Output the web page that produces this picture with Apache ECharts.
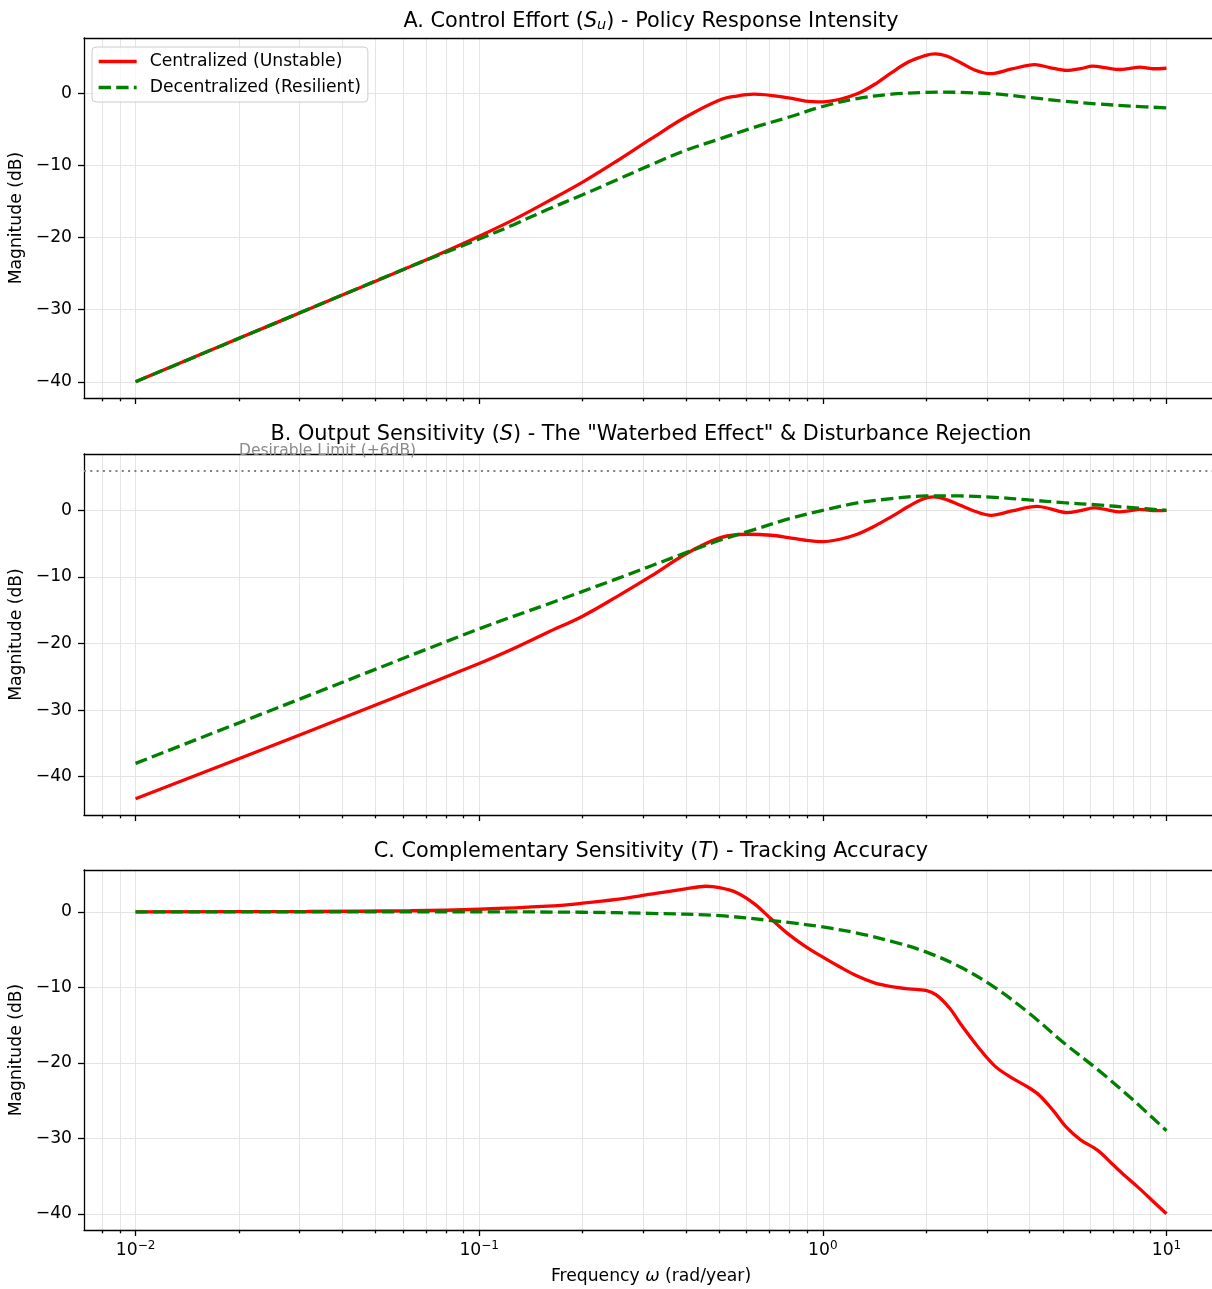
<!DOCTYPE html>
<html><head><meta charset="utf-8">
<script src="https://cdn.jsdelivr.net/npm/echarts@6/dist/echarts.min.js"></script>
<style>html,body{margin:0;padding:0;background:#fff}#c{width:1212px;height:1289px}</style>
</head><body><div id="c"></div>
<script>
const FONT = 'DejaVu Sans';
const SERIES_NAMES = ['Centralized (Unstable)', 'Decentralized (Resilient)'];
const X_MAJOR_TICKS = [0.01, 0.1, 1, 10];
const Y_TICKS = [-40, -30, -20, -10, 0];
const LIMIT_DB = 6;
const LIMIT_LABEL = 'Desirable Limit (+6dB)';
const LIMIT_LABEL_X = 0.02;

// Panel A: Control effort S_u
const A_CEN_FREQ = [0.01,0.0158,0.0251,0.0398,0.0631,0.0794,0.1,0.126,0.158,0.2,0.251,0.316,0.398,0.501,0.562,0.631,0.794,0.891,1.0,1.122,1.259,1.413,1.585,1.778,1.995,2.12,2.291,2.512,2.754,3.06,3.548,4.14,4.571,5.129,5.623,6.11,6.683,7.31,7.852,8.356,9.12,10];
const A_CEN_MAG  = [-40,-36,-32,-28,-24,-21.95,-19.8,-17.5,-15.0,-12.3,-9.4,-6.3,-3.3,-0.9,-0.35,-0.1,-0.6,-1.05,-1.15,-0.8,-0.05,1.25,2.9,4.4,5.3,5.5,5.2,4.3,3.3,2.75,3.4,4.0,3.6,3.2,3.45,3.8,3.55,3.33,3.5,3.65,3.43,3.5];
const A_DEC_FREQ = [0.01,0.0251,0.0631,0.0794,0.1,0.126,0.158,0.2,0.251,0.316,0.398,0.501,0.631,0.794,1.0,1.259,1.585,1.995,2.239,2.512,3.162,3.981,5.012,6.31,7.943,10];
const A_DEC_MAG  = [-40,-32,-24,-22.1,-20.2,-18.2,-16.1,-14.05,-12.0,-9.9,-7.9,-6.3,-4.7,-3.3,-1.8,-0.7,-0.1,0.15,0.2,0.15,-0.05,-0.55,-1.05,-1.45,-1.75,-2.0];

// Panel B: Output sensitivity S
const B_CEN_FREQ = [0.01,0.0316,0.1,0.126,0.158,0.2,0.251,0.316,0.398,0.501,0.603,0.708,0.794,0.891,1.0,1.122,1.259,1.413,1.585,1.778,1.95,2.1,2.291,2.512,2.754,3.09,3.548,4.2,4.571,5.129,5.623,6.166,6.683,7.295,7.852,8.356,9.12,10];
const B_CEN_MAG  = [-43.3,-33.3,-23.0,-20.75,-18.35,-15.9,-13.0,-9.9,-6.6,-4.15,-3.6,-3.75,-4.1,-4.5,-4.7,-4.35,-3.6,-2.4,-0.95,0.6,1.65,2.0,1.6,0.75,-0.1,-0.75,-0.1,0.6,0.25,-0.35,-0.05,0.35,0.1,-0.25,-0.05,0.15,-0.05,0];
const B_DEC_FREQ = [0.01,0.0316,0.1,0.158,0.251,0.398,0.501,0.631,0.794,1.0,1.259,1.585,1.995,2.512,3.162,3.981,5.012,6.31,7.943,10];
const B_DEC_MAG  = [-38,-27.9,-17.8,-14.1,-10.3,-6.4,-4.5,-2.9,-1.3,0,1.1,1.75,2.15,2.15,1.95,1.55,1.15,0.8,0.4,0];

// Panel C: Complementary sensitivity T
const C_CEN_FREQ = [0.01,0.0316,0.0631,0.1,0.158,0.2,0.251,0.316,0.398,0.457,0.501,0.562,0.631,0.708,0.794,0.891,1.0,1.122,1.259,1.413,1.585,1.778,1.995,2.138,2.344,2.512,2.818,3.162,3.548,3.981,4.266,4.677,5.129,5.623,6.31,6.918,7.586,8.318,9.12,10];
const C_CEN_MAG  = [0,0.05,0.15,0.35,0.75,1.15,1.65,2.35,3.05,3.4,3.2,2.55,1.1,-0.95,-2.95,-4.6,-6.0,-7.3,-8.5,-9.4,-9.9,-10.2,-10.4,-11.0,-12.8,-14.8,-17.8,-20.4,-22.0,-23.3,-24.3,-26.3,-28.6,-30.2,-31.6,-33.3,-35.0,-36.6,-38.3,-40];
const C_DEC_FREQ = [0.01,0.1,0.2,0.316,0.501,0.708,0.794,1.0,1.259,1.585,1.995,2.512,3.162,3.981,5.012,6.31,7.943,10];
const C_DEC_MAG  = [0,0,-0.05,-0.2,-0.5,-1.15,-1.4,-2.0,-2.8,-3.9,-5.3,-7.3,-10.0,-13.4,-17.3,-20.9,-24.8,-29];

const zip = (xs, ys) => xs.map((x, i) => [x, ys[i]]);

const X_MIN = Math.pow(10, -2.15), X_MAX = Math.pow(10, 1.15);
const X_MINOR_TICKS = [];
[0.001, 0.01, 0.1, 1].forEach(d => { for (let m = 2; m <= 9; m++) X_MINOR_TICKS.push(+(d * m).toPrecision(3)); });

const GRIDS = [{top: 38, height: 360}, {top: 454, height: 361}, {top: 870, height: 360}];
const Y_RANGES = [[-42.25, 7.7], [-45.75, 8.45], [-42.15, 5.55]];
const TITLES = [
  'A. Control Effort ({i|S}{sub|u}) - Policy Response Intensity',
  'B. Output Sensitivity ({i|S}) - The "Waterbed Effect" & Disturbance Rejection',
  'C. Complementary Sensitivity ({i|T}) - Tracking Accuracy'
];
const TITLE_TOPS = [10, 424, 841];
const PANELS = [
  [zip(A_CEN_FREQ, A_CEN_MAG), zip(A_DEC_FREQ, A_DEC_MAG)],
  [zip(B_CEN_FREQ, B_CEN_MAG), zip(B_DEC_FREQ, B_DEC_MAG)],
  [zip(C_CEN_FREQ, C_CEN_MAG), zip(C_DEC_FREQ, C_DEC_MAG)]
];

const FS = 17.2, TFS = 20.8;
const GRID_LINE = {color: '#e4e4e4', width: 1};
const SPINE = {color: '#000', width: 1.3};
const minus = v => (v < 0 ? '\u2212' + (-v) : String(v));

const grid = [], xAxis = [], yAxis = [], series = [], title = [];
GRIDS.forEach((g, gi) => {
  grid.push({left: 84, right: -6, top: g.top, height: g.height, show: false, containLabel: false, outerBoundsMode: 'none'});
  title.push({
    text: TITLES[gi], left: 651, top: TITLE_TOPS[gi], textAlign: 'center', padding: 0,
    textStyle: {fontFamily: FONT, fontSize: TFS, fontWeight: 'normal', color: '#000',
      rich: {i: {fontFamily: FONT, fontSize: TFS, fontStyle: 'italic', color: '#000'},
             sub: {fontFamily: FONT, fontSize: 14.5, fontStyle: 'italic', color: '#000', padding: [8, 0, 0, 0]}}}
  });
  const last = gi === 2;
  xAxis.push({
    type: 'log', logBase: 10, gridIndex: gi, min: X_MIN, max: X_MAX, position: 'bottom',
    axisLine: {show: true, onZero: false, lineStyle: SPINE},
    axisTick: {show: true, inside: false, length: 6, customValues: X_MAJOR_TICKS, lineStyle: SPINE},
    axisLabel: {show: last, customValues: X_MAJOR_TICKS, margin: 10, color: '#000',
      formatter: v => { const e = Math.round(Math.log10(v)); return '{b|10}{s|' + minus(e) + '}'; },
      rich: {b: {fontFamily: FONT, fontSize: FS, color: '#000'}, s: {fontFamily: FONT, fontSize: 12, color: '#000', padding: [0, 0, 10, 0]}}},
    splitLine: {show: true, lineStyle: GRID_LINE},
    name: last ? 'Frequency {i|ω} (rad/year)' : '', nameLocation: 'middle', nameGap: 38,
    nameTextStyle: {fontFamily: FONT, fontSize: FS, color: '#000', rich: {i: {fontFamily: FONT, fontSize: FS, fontStyle: 'italic', color: '#000'}}}
  });
  xAxis.push({
    type: 'log', logBase: 10, gridIndex: gi, min: X_MIN, max: X_MAX, position: 'bottom',
    axisLine: {show: false, onZero: false},
    axisTick: {show: true, inside: false, length: 3.3, customValues: X_MINOR_TICKS, lineStyle: SPINE},
    axisLabel: {show: false},
    splitLine: {show: true, lineStyle: GRID_LINE}
  });
  xAxis.push({
    type: 'log', logBase: 10, gridIndex: gi, min: X_MIN, max: X_MAX, position: 'top',
    axisLine: {show: true, onZero: false, lineStyle: SPINE},
    axisTick: {show: false}, axisLabel: {show: false}, splitLine: {show: false}
  });
  yAxis.push({
    type: 'value', gridIndex: gi, min: Y_RANGES[gi][0], max: Y_RANGES[gi][1],
    axisLine: {show: true, onZero: false, lineStyle: SPINE},
    axisTick: {show: true, inside: false, length: 6, customValues: Y_TICKS, lineStyle: SPINE},
    axisLabel: {customValues: Y_TICKS, margin: 12, color: '#000', fontFamily: FONT, fontSize: FS, formatter: minus},
    splitLine: {show: true, lineStyle: GRID_LINE},
    name: 'Magnitude (dB)', nameLocation: 'middle', nameGap: 57,
    nameTextStyle: {fontFamily: FONT, fontSize: FS, color: '#000'}
  });
  const [cen, dec] = PANELS[gi];
  series.push({
    type: 'line', name: SERIES_NAMES[0], xAxisIndex: gi * 3, yAxisIndex: gi, data: cen,
    symbol: 'none', showSymbol: false, smooth: 0.35, silent: true,
    lineStyle: {color: '#ff0000', width: 3.3}, itemStyle: {color: '#ff0000'}, z: 3
  });
  const decSeries = {
    type: 'line', name: SERIES_NAMES[1], xAxisIndex: gi * 3, yAxisIndex: gi, data: dec,
    symbol: 'none', showSymbol: false, smooth: 0.35, silent: true,
    lineStyle: {color: '#008000', width: 3.3, type: [12.3, 5.3], cap: 'butt'}, itemStyle: {color: '#008000'}, z: 4
  };
  if (gi === 1) {
    decSeries.markLine = {
      silent: true, symbol: ['none', 'none'], label: {show: false}, animation: false,
      lineStyle: {color: '#808080', width: 2, type: [2, 4.3], cap: 'butt'},
      data: [{yAxis: LIMIT_DB}]
    };
    decSeries.markPoint = {
      silent: true, symbol: 'circle', symbolSize: 0, animation: false,
      label: {show: true, position: 'right', distance: 0, offset: [0, -19], formatter: LIMIT_LABEL,
        fontFamily: FONT, fontSize: 15.5, color: '#8a8a8a'},
      data: [{coord: [LIMIT_LABEL_X, LIMIT_DB]}]
    };
  }
  series.push(decSeries);
});

const chart = echarts.init(document.getElementById('c'), null, {renderer: 'canvas'});
chart.setOption({
  animation: false,
  backgroundColor: '#fff',
  textStyle: {fontFamily: FONT},
  title, grid, xAxis, yAxis, series,
  legend: {
    show: true, orient: 'vertical', left: 92, top: 47, data: SERIES_NAMES,
    itemWidth: 38, itemHeight: 17, itemGap: 9, padding: [6, 7, 6, 5],
    backgroundColor: 'rgba(255,255,255,0.8)', borderColor: '#cccccc', borderWidth: 1, borderRadius: 4,
    selectedMode: false,
    itemStyle: {opacity: 0},
    lineStyle: {width: 3.3},
    textStyle: {fontFamily: FONT, fontSize: FS, color: '#000', padding: [0, 0, 0, 8]}
  }
});
</script></body></html>
